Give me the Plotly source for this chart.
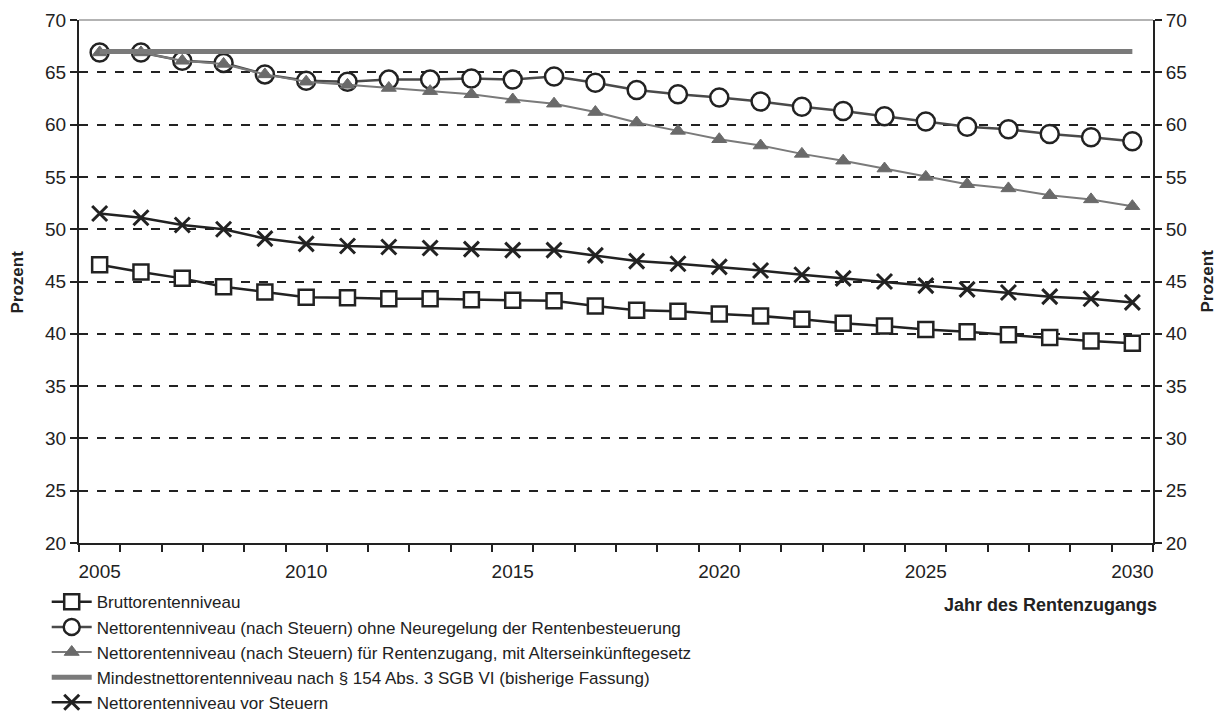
import plotly.graph_objects as go

years = list(range(2005, 2031))

brutto = [46.6, 45.9, 45.3, 44.5, 44.0, 43.5, 43.45, 43.35, 43.35, 43.25,
          43.2, 43.15, 42.65, 42.25, 42.15, 41.9, 41.7, 41.4, 41.0, 40.75,
          40.4, 40.2, 39.9, 39.65, 39.3, 39.1]

netto_ohne = [66.9, 66.9, 66.1, 65.9, 64.8, 64.2, 64.1, 64.3, 64.3, 64.4,
              64.3, 64.6, 64.0, 63.3, 62.9, 62.6, 62.2, 61.7, 61.3, 60.8,
              60.3, 59.8, 59.55, 59.1, 58.8, 58.4]

netto_aeg = [66.9, 66.9, 66.1, 65.8, 64.8, 64.1, 63.8, 63.5, 63.2, 62.9,
             62.4, 62.0, 61.2, 60.2, 59.4, 58.6, 58.0, 57.2, 56.55, 55.8,
             55.0, 54.3, 53.9, 53.25, 52.85, 52.2]

mindest = [67.0] * 26

vor_steuern = [51.5, 51.1, 50.4, 50.0, 49.1, 48.6, 48.4, 48.3, 48.2, 48.1,
               48.0, 48.0, 47.5, 46.95, 46.7, 46.4, 46.05, 45.65, 45.3, 45.0,
               44.6, 44.25, 43.95, 43.55, 43.35, 43.0]

names = [
    "Bruttorentenniveau",
    "Nettorentenniveau (nach Steuern) ohne Neuregelung der Rentenbesteuerung",
    "Nettorentenniveau (nach Steuern) für Rentenzugang, mit Alterseinkünftegesetz",
    "Mindestnettorentenniveau nach § 154 Abs. 3 SGB VI (bisherige Fassung)",
    "Nettorentenniveau vor Steuern",
]

x_labels = [2005, 2010, 2015, 2020, 2025, 2030]
y_ticks = [20, 25, 30, 35, 40, 45, 50, 55, 60, 65, 70]

FONT = "Liberation Sans, Arial, sans-serif"
DARK = "#222222"

fig = go.Figure()

fig.add_trace(go.Scatter(
    x=years, y=brutto, name=names[0], mode="lines+markers",
    line=dict(color=DARK, width=2.5),
    marker=dict(symbol="square", size=15, color="white",
                line=dict(color=DARK, width=2.5))))

fig.add_trace(go.Scatter(
    x=years, y=netto_ohne, name=names[1], mode="lines+markers",
    line=dict(color="#4a4a4a", width=2.5),
    marker=dict(symbol="circle", size=18, color="white",
                line=dict(color=DARK, width=2.5))))

fig.add_trace(go.Scatter(
    x=years, y=netto_aeg, name=names[2], mode="lines+markers",
    line=dict(color="#7a7a7a", width=2),
    marker=dict(symbol="triangle-up", size=13, color="#6a6a6a",
                line=dict(color="#6a6a6a", width=1))))

fig.add_trace(go.Scatter(
    x=years, y=mindest, name=names[3], mode="lines",
    line=dict(color="#7a7a7a", width=5)))

fig.add_trace(go.Scatter(
    x=years, y=vor_steuern, name=names[4], mode="lines+markers",
    line=dict(color=DARK, width=2.5),
    marker=dict(symbol="x-thin", size=15, color=DARK,
                line=dict(color=DARK, width=3))))

fig.update_layout(
    width=1225, height=715,
    margin=dict(l=71, r=80, t=12, b=180, autoexpand=False),
    paper_bgcolor="white", plot_bgcolor="white",
    font=dict(family=FONT, color=DARK, size=19),
    showlegend=True,
    legend=dict(
        xref="container", yref="container",
        x=0.0316, y=0.194, xanchor="left", yanchor="top",
        orientation="v", font=dict(size=17, family=FONT, color=DARK),
        tracegroupgap=0, itemwidth=40, bgcolor="rgba(0,0,0,0)",
        traceorder="normal",
    ),
    xaxis=dict(
        range=[2004.5, 2030.5], tickmode="array", tickvals=x_labels,
        ticks="", showgrid=False, zeroline=False, automargin=False,
        showline=True, linecolor=DARK, linewidth=2,
        tickfont=dict(size=19), ticklabelstandoff=10,
        minor=dict(tickmode="linear", tick0=2004.5, dtick=1,
                   ticks="outside", ticklen=7, tickwidth=1.5,
                   tickcolor=DARK, showgrid=False),
    ),
    yaxis=dict(
        range=[20, 70], tickmode="array", tickvals=y_ticks,
        ticks="outside", ticklen=7, tickwidth=1.5, tickcolor=DARK,
        showline=True, linecolor=DARK, linewidth=2, automargin=False,
        showgrid=True, gridcolor=DARK, gridwidth=1.5, griddash="dash",
        zeroline=False, tickfont=dict(size=19),
    ),
    yaxis2=dict(
        range=[20, 70], tickmode="array", tickvals=y_ticks,
        overlaying="y", side="right", anchor="x", automargin=False,
        ticks="outside", ticklen=7, tickwidth=1.5, tickcolor=DARK,
        showline=True, linecolor=DARK, linewidth=2,
        showgrid=False, zeroline=False, tickfont=dict(size=19),
    ),
    annotations=[
        dict(text="<b>Jahr des Rentenzugangs</b>", xref="paper", yref="paper",
             x=1.006, y=-0.118, xanchor="right", yanchor="middle",
             showarrow=False, font=dict(size=18, family=FONT, color=DARK)),
        dict(text="<b>Prozent</b>", xref="paper", yref="paper",
             x=-0.0568, y=0.5, xanchor="center", yanchor="middle",
             textangle=-90, showarrow=False,
             font=dict(size=17, family=FONT, color=DARK)),
        dict(text="<b>Prozent</b>", xref="paper", yref="paper",
             x=1.0503, y=0.5, xanchor="center", yanchor="middle",
             textangle=-90, showarrow=False,
             font=dict(size=17, family=FONT, color=DARK)),
    ],
    shapes=[dict(type="line", xref="paper", yref="paper", x0=0, x1=1,
                 y0=1, y1=1, line=dict(color="#9a9a9a", width=1.5))],
)

# invisible helper trace so the right-hand axis is rendered
fig.add_trace(go.Scatter(x=[years[0]], y=[mindest[0]], yaxis="y2",
                         mode="markers", marker=dict(opacity=0),
                         showlegend=False, hoverinfo="skip"))

fig.write_html("out.html")
